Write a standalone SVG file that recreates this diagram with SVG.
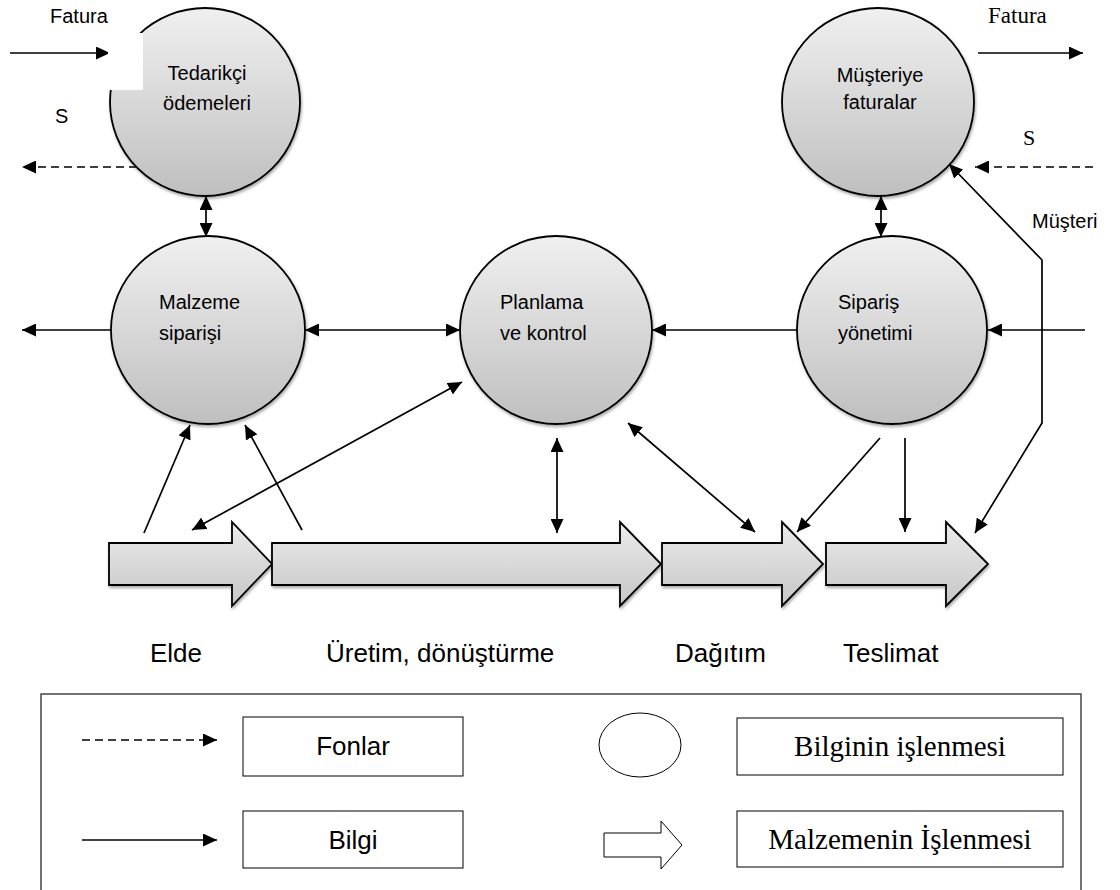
<svg xmlns="http://www.w3.org/2000/svg" width="1120" height="890" viewBox="0 0 1120 890">
<defs>
<linearGradient id="gC" x1="0" y1="0" x2="0" y2="1"><stop offset="0" stop-color="#f0f0f0"/><stop offset="1" stop-color="#bfbfbf"/></linearGradient>
<linearGradient id="gA" x1="0" y1="0" x2="0" y2="1"><stop offset="0" stop-color="#ececec"/><stop offset="1" stop-color="#c6c6c6"/></linearGradient>
<filter id="sh" x="-20%" y="-20%" width="140%" height="140%"><feDropShadow dx="1" dy="2" stdDeviation="1.5" flood-color="#000" flood-opacity="0.35"/></filter>
<marker id="ah" viewBox="0 0 14 13" markerWidth="14" markerHeight="13" refX="14" refY="6.5" orient="auto-start-reverse" markerUnits="userSpaceOnUse"><path d="M0,0 L14,6.5 L0,13 z" fill="#000"/></marker>
<style>
.node{fill:url(#gC);stroke:#000;stroke-width:1.8;filter:url(#sh)}
.blk{fill:url(#gA);stroke:#000;stroke-width:1.8;filter:url(#sh)}
.ln{fill:none;stroke:#000;stroke-width:1.7}
.ds{stroke-dasharray:8 5}
.end{marker-end:url(#ah)}
.both{marker-start:url(#ah);marker-end:url(#ah)}
.t{font-family:"Liberation Sans",Arial,sans-serif;font-size:20px;fill:#000}
.tb{font-family:"Liberation Sans",Arial,sans-serif;font-size:26px;fill:#000}
.ts{font-family:"Liberation Serif","Times New Roman",serif;fill:#000}
.box{fill:#fff;stroke:#000;stroke-width:1}
</style>
</defs>
<rect width="1120" height="890" fill="#fff"/>

<g id="connectors">
<line class="ln end" x1="10" y1="53" x2="110" y2="53"/>
<line class="ln ds end" x1="137" y1="167" x2="22" y2="167"/>
<line class="ln both" x1="206" y1="196" x2="206" y2="237"/>
<line class="ln end" x1="111" y1="330" x2="22" y2="330"/>
<line class="ln both" x1="305" y1="330" x2="460" y2="330"/>
<line class="ln end" x1="797" y1="330" x2="652" y2="330"/>
<line class="ln end" x1="1085" y1="330" x2="988" y2="330"/>
<line class="ln both" x1="881" y1="196" x2="881" y2="237"/>
<line class="ln end" x1="978" y1="53" x2="1083" y2="53"/>
<line class="ln ds end" x1="1093" y1="167" x2="975" y2="167"/>
<polyline class="ln both" points="949,164 1042,260 1042,423 975,533"/>
<line class="ln end" x1="880" y1="438" x2="797" y2="532"/>
<line class="ln end" x1="905" y1="438" x2="905" y2="532"/>
<line class="ln both" x1="628" y1="423" x2="755" y2="532"/>
<line class="ln both" x1="557" y1="438" x2="557" y2="533"/>
<line class="ln both" x1="462" y1="382" x2="192" y2="530"/>
<line class="ln end" x1="144" y1="533" x2="190" y2="425"/>
<line class="ln end" x1="302" y1="530" x2="245" y2="425"/>
</g>

<g id="n-tedarikci">
<ellipse class="node" cx="205" cy="102" rx="95" ry="94"/>
<rect x="108" y="33" width="35" height="57" fill="#fff"/>
<text class="t" x="207" y="80" text-anchor="middle">Tedarikçi</text>
<text class="t" x="207" y="110" text-anchor="middle">ödemeleri</text>
</g>
<g id="n-musteriye">
<ellipse class="node" cx="878" cy="102" rx="96" ry="94"/>
<text class="t" x="880" y="82" text-anchor="middle">Müşteriye</text>
<text class="t" x="880" y="109" text-anchor="middle">faturalar</text>
</g>
<g id="n-malzeme">
<ellipse class="node" cx="208" cy="330" rx="97" ry="94"/>
<text class="t" x="159" y="309">Malzeme</text>
<text class="t" x="159" y="340">siparişi</text>
</g>
<g id="n-planlama">
<ellipse class="node" cx="556" cy="330" rx="96" ry="94"/>
<text class="t" x="500" y="309">Planlama</text>
<text class="t" x="500" y="340">ve kontrol</text>
</g>
<g id="n-siparis">
<ellipse class="node" cx="892" cy="330" rx="95" ry="94"/>
<text class="t" x="838" y="309">Sipariş</text>
<text class="t" x="838" y="340">yönetimi</text>
</g>

<g id="labels">
<text class="t" x="50" y="23" font-size="21">Fatura</text>
<text class="t" x="55" y="123">S</text>
<text class="ts" x="988" y="23" font-size="23">Fatura</text>
<text class="ts" x="1023" y="145" font-size="22">S</text>
<text class="t" x="1032" y="228" font-size="21">Müşteri</text>
</g>

<g id="n-elde">
<polygon class="blk" points="109,543 232,543 232,522 272,564 232,606 232,585 109,585"/>
<text class="tb" x="150" y="662">Elde</text>
</g>
<g id="n-uretim">
<polygon class="blk" points="272,543 620,543 620,522 661,564 620,606 620,585 272,585"/>
<text class="tb" x="326" y="662">Üretim, dönüştürme</text>
</g>
<g id="n-dagitim">
<polygon class="blk" points="662,543 782,543 782,522 823,564 782,606 782,585 662,585"/>
<text class="tb" x="675" y="662">Dağıtım</text>
</g>
<g id="n-teslimat">
<polygon class="blk" points="826,543 946,543 946,522 988,564 946,606 946,585 826,585"/>
<text class="tb" x="843" y="662">Teslimat</text>
</g>

<g id="legend">
<rect x="41" y="694" width="1040" height="210" fill="none" stroke="#444" stroke-width="1.5"/>
<line class="ln ds end" x1="82" y1="740" x2="217" y2="740"/>
<line class="ln end" x1="82" y1="840" x2="217" y2="840"/>
<rect class="box" x="243" y="717" width="220" height="59"/>
<text class="tb" x="353" y="755" text-anchor="middle">Fonlar</text>
<rect class="box" x="243" y="811" width="220" height="57"/>
<text class="tb" x="353" y="849" text-anchor="middle">Bilgi</text>
<ellipse cx="640" cy="745" rx="41" ry="32" fill="#fff" stroke="#000" stroke-width="1"/>
<polygon points="604,833 661,833 661,821 682,845 661,869 661,857 604,857" fill="#fff" stroke="#000" stroke-width="1"/>
<rect class="box" x="737" y="718" width="326" height="57"/>
<text class="ts" x="900" y="756" font-size="29" text-anchor="middle">Bilginin işlenmesi</text>
<rect class="box" x="737" y="811" width="326" height="56"/>
<text class="ts" x="900" y="849" font-size="29" text-anchor="middle">Malzemenin İşlenmesi</text>
</g>
</svg>
